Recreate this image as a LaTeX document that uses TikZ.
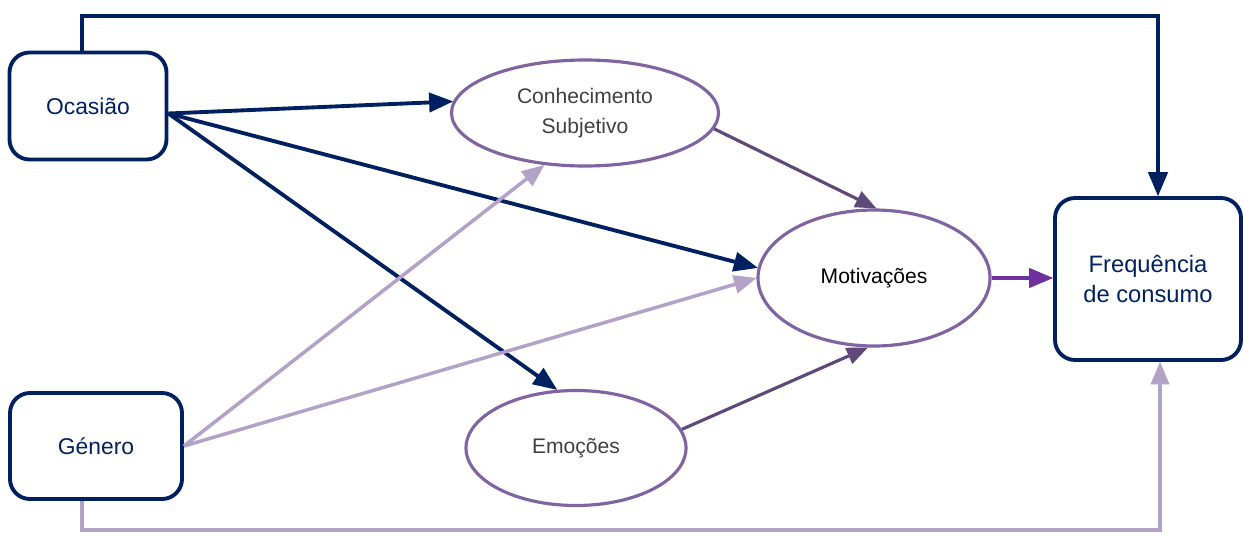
\documentclass[tikz,border=0pt]{standalone}
\usepackage{fontspec}
\setmainfont{Liberation Sans}
\usepackage{tikz}
\usetikzlibrary{shapes.geometric}
\usetikzlibrary{arrows}

\definecolor{navy}{HTML}{002060}
\definecolor{lilac}{HTML}{B3A2C7}
\definecolor{ovalpurple}{HTML}{8064A2}
\definecolor{plum}{HTML}{5F497A}
\definecolor{violet}{HTML}{7030A0}

\begin{document}
\begin{tikzpicture}[
	factor/.style={draw=navy, line width=2.2pt, rounded corners=0.4cm, text=navy, align=center, font=\fontsize{13}{17.5}\selectfont, inner sep=0pt},
	construct/.style={ellipse, draw=ovalpurple, line width=1.8pt, align=center, text=black!75, font=\fontsize{12}{17}\selectfont, inner sep=0pt},
	navyline/.style={draw=navy, line width=2.2pt, arrows=-triangle 45},
	lilacline/.style={draw=lilac, line width=2pt, arrows=-triangle 45},
	plumline/.style={draw=plum, line width=1.8pt, arrows=-triangle 45}
]
	\useasboundingbox (0,0) rectangle (24.86,-10.68);
	% caixas
	\node[factor, minimum width=3.14cm, minimum height=2.14cm] (ocasiao) at (1.76,-2.12) {Ocasião};
	\node[factor, minimum width=3.44cm, minimum height=2.12cm] (genero) at (1.92,-8.92) {Género};
	\node[factor, minimum width=3.72cm, minimum height=3.24cm, font=\fontsize{13.5}{17.5}\selectfont] (freq) at (22.96,-5.58) {Frequência\\de consumo};
	% elipses
	\node[construct, minimum width=5.34cm, minimum height=2.12cm] (conhecimento) at (11.70,-2.26) {Conhecimento\\Subjetivo};
	\node[construct, minimum width=4.64cm, minimum height=2.72cm, text=black] (motivacoes) at (17.48,-5.56) {Motivações};
	\node[construct, minimum width=4.40cm, minimum height=2.30cm] (emocoes) at (11.52,-8.96) {Emoções};
	% ligacoes
	\coordinate (topleft) at (1.64,-0.32);
	\coordinate (topright) at (23.16,-0.32);
	\coordinate (botleft) at (1.64,-10.60);
	\coordinate (botright) at (23.20,-10.60);
	\draw[navyline] (ocasiao.north -| topleft) -- (topleft) -- (topright) -- (topright |- freq.north);
	\draw[lilacline] (genero.south -| botleft) -- (botleft) -- (botright) -- (botright |- freq.south);
	\draw[navyline] ([yshift=-1.5mm]ocasiao.east) -- (conhecimento.175);
	\draw[navyline] ([yshift=-1.5mm]ocasiao.east) -- (motivacoes.175);
	\draw[navyline] ([yshift=-1.5mm]ocasiao.east) -- (emocoes.108);
	\draw[lilacline] (genero.east) -- (conhecimento.232);
	\draw[lilacline] (genero.east) -- (motivacoes.west);
	\draw[plumline] (conhecimento.-7) -- (motivacoes.88);
	\draw[plumline] (emocoes.10) -- (motivacoes.265);
	\draw[draw=violet, line width=2.2pt, arrows=-triangle 45] (motivacoes.east) -- (motivacoes.east -| freq.west);
\end{tikzpicture}
\end{document}
